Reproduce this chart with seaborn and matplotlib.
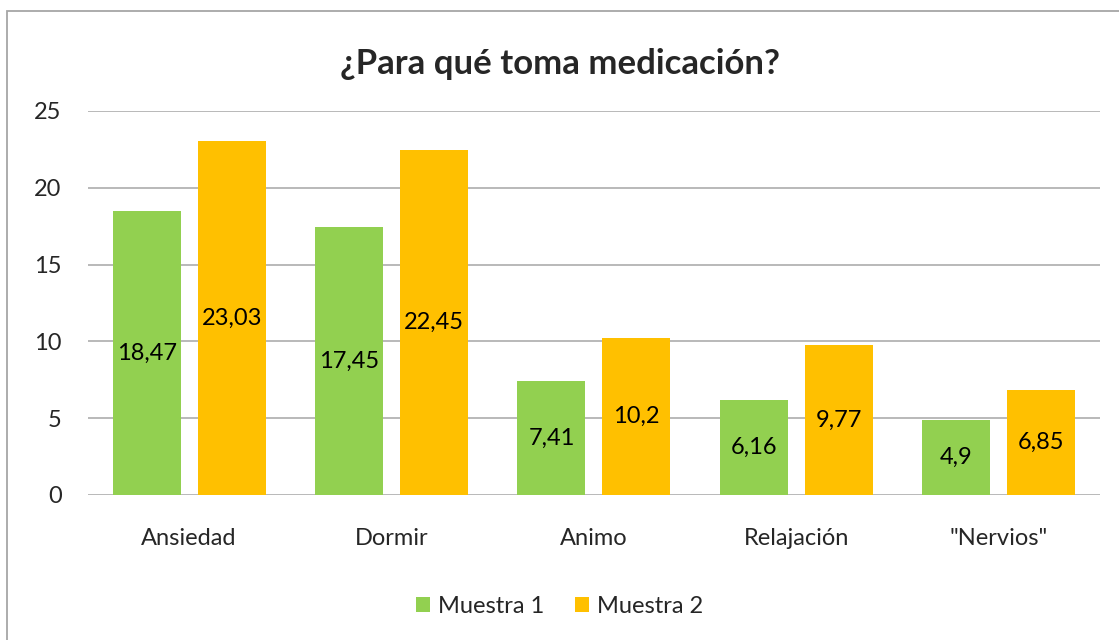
import pandas as pd
import matplotlib.pyplot as plt
import seaborn as sns
from matplotlib.patches import Rectangle

# -----------------------------
# DATA
# -----------------------------
categories = ["Ansiedad", "Dormir", "Animo", "Relajación", "\"Nervios\""]
muestra_1 = [18.47, 17.45, 7.41, 6.16, 4.9]
muestra_2 = [23.03, 22.45, 10.2, 9.77, 6.85]
series_names = ["Muestra 1", "Muestra 2"]
colors = ["#92D050", "#FFC000"]

df = pd.DataFrame({
    "Categoria": categories * 2,
    "Valor": muestra_1 + muestra_2,
    "Serie": [series_names[0]] * len(categories) + [series_names[1]] * len(categories),
})

# -----------------------------
# PLOT
# -----------------------------
sns.set_style("white")
plt.rcParams["font.family"] = ["Lato", "DejaVu Sans"]

fig = plt.figure(figsize=(11.19, 6.40), dpi=100)
ax = fig.add_axes([0.0786, 0.2266, 0.9044, 0.60])

sns.barplot(data=df, x="Categoria", y="Valor", hue="Serie",
            palette=colors, width=0.84, gap=0.2, saturation=1,
            linewidth=0, ax=ax, legend=True)

for container in ax.containers:
    labels = [f"{v:g}".replace(".", ",") for v in container.datavalues]
    ax.bar_label(container, labels=labels, label_type="center", fontsize=17, color="black")

ax.set_ylim(0, 25)
ax.set_yticks(range(0, 26, 5))
ax.yaxis.grid(True, color="#B3B3B3", linewidth=1.3)
ax.set_axisbelow(True)
for s in ax.spines.values():
    s.set_visible(False)
ax.tick_params(axis="y", length=0, pad=19, labelsize=17)
ax.tick_params(axis="x", length=0, pad=24, labelsize=17)
ax.set_xlabel("")
ax.set_ylabel("")
ax.set_xlim(-0.5, 4.5)

fig.suptitle("¿Para qué toma medicación?", fontsize=25, fontweight="bold", y=0.925)

handles, lbls = ax.get_legend_handles_labels()
ax.get_legend().remove()
fig.legend(handles, lbls, loc="center", bbox_to_anchor=(0.5, 0.052), ncol=2,
           frameon=False, fontsize=17, handlelength=0.6, handleheight=0.6,
           handletextpad=0.35, columnspacing=1.3)

# figure border
fig.patches.append(Rectangle((0.0065, -0.01), 1.0, 0.993, transform=fig.transFigure,
                             fill=False, edgecolor="#A6A6A6", linewidth=1.3))

plt.savefig("out.png", dpi=100)
plt.close()
